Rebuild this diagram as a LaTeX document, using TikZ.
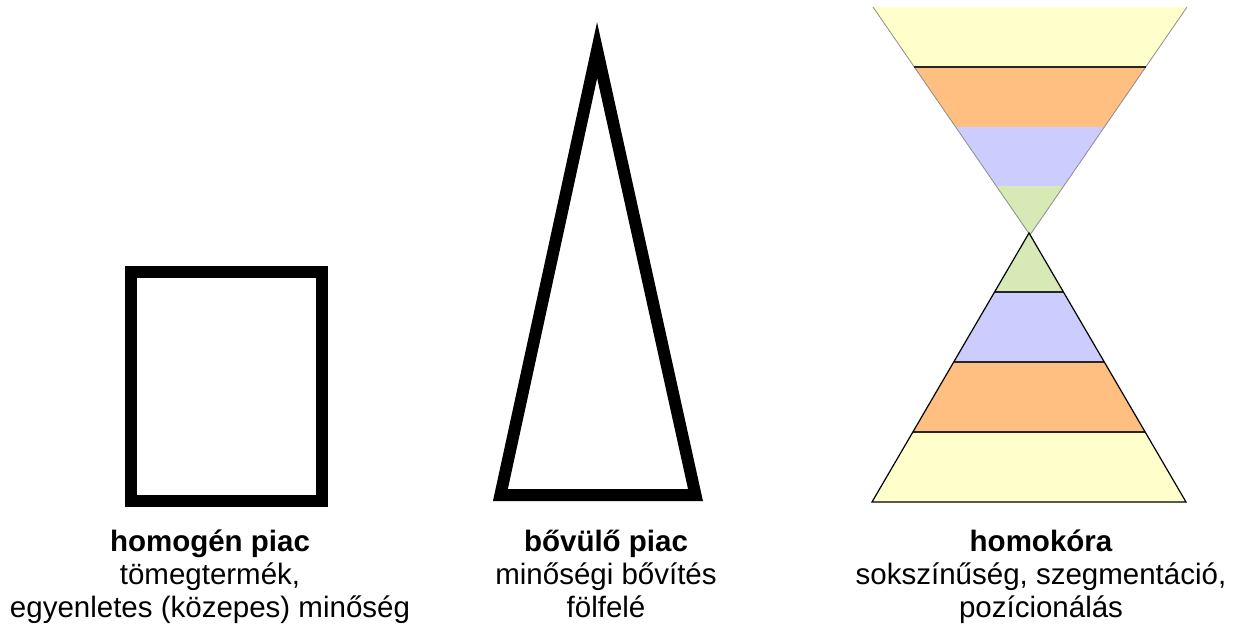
\documentclass[tikz,border=0pt]{standalone}
\usepackage{fontspec}
\setmainfont{Liberation Sans}
\definecolor{hgyellow}{RGB}{255,255,204}
\definecolor{hgorange}{RGB}{255,191,128}
\definecolor{hgblue}{RGB}{204,204,255}
\definecolor{hggreen}{RGB}{215,233,181}
\begin{document}
\begin{tikzpicture}[x=1pt,y=-1pt,
  lbl/.style={anchor=base, inner sep=0pt, font=\fontsize{29.5}{33}\selectfont},
  ttl/.style={anchor=base, inner sep=0pt, font=\fontsize{29.5}{33}\selectfont\bfseries},
  heavy/.style={line width=12pt, line join=miter},
  faint/.style={draw=black!45, line width=0.8pt},
  hgline/.style={draw=black!85, line width=1.3pt}]
\useasboundingbox (0,0) rectangle (1233,624);
% homogeneous market
\draw[heavy] (130.7,272.3) rectangle (322,501);
% expanding market
\draw[heavy] (500.4,495) -- (695.5,495) -- (597.1,50.2) -- cycle;
% hourglass: upper part
\fill[hgyellow] (873,7) -- (1187,7) -- (1145.7,67) -- (914.3,67) -- cycle;
\fill[hgorange] (914.3,67) -- (1145.7,67) -- (1104.4,127) -- (955.6,127) -- cycle;
\fill[hgblue] (955.6,127) -- (1104.4,127) -- (1063.7,186) -- (996.3,186) -- cycle;
\fill[hggreen] (996.3,186) -- (1063.7,186) -- (1030,235) -- cycle;
\draw[faint] (873,7) -- (1030,235) -- (1187,7);
\draw[hgline] (914.3,67) -- (1145.7,67);
% hourglass: lower part
\fill[hggreen] (1029,233) -- (1063.4,292) -- (994.6,292) -- cycle;
\fill[hgblue] (994.6,292) -- (1063.4,292) -- (1104.3,362) -- (953.7,362) -- cycle;
\fill[hgorange] (953.7,362) -- (1104.3,362) -- (1145.1,432) -- (912.9,432) -- cycle;
\fill[hgyellow] (912.9,432) -- (1145.1,432) -- (1186,502) -- (872,502) -- cycle;
\draw[hgline] (994.6,292) -- (1063.4,292);
\draw[hgline] (953.7,362) -- (1104.3,362);
\draw[hgline] (912.9,432) -- (1145.1,432);
\draw[black, line width=1.2pt, line join=miter] (1029,233) -- (1186,502) -- (872,502) -- cycle;
% labels
\node[ttl] (t1) at (210,551) {homogén piac};
\node[lbl] (t1a) at (210,584) {tömegtermék,};
\node[lbl] (t1b) at (210,617) {egyenletes (közepes) minőség};
\node[ttl] (t2) at (606,551) {bővülő piac};
\node[lbl] (t2a) at (606,584) {minőségi bővítés};
\node[lbl] (t2b) at (606,617) {fölfelé};
\node[ttl] (t3) at (1041,551) {homokóra};
\node[lbl] (t3a) at (1041,584) {sokszínűség, szegmentáció,};
\node[lbl] (t3b) at (1041,617) {pozícionálás};
\end{tikzpicture}
\end{document}
